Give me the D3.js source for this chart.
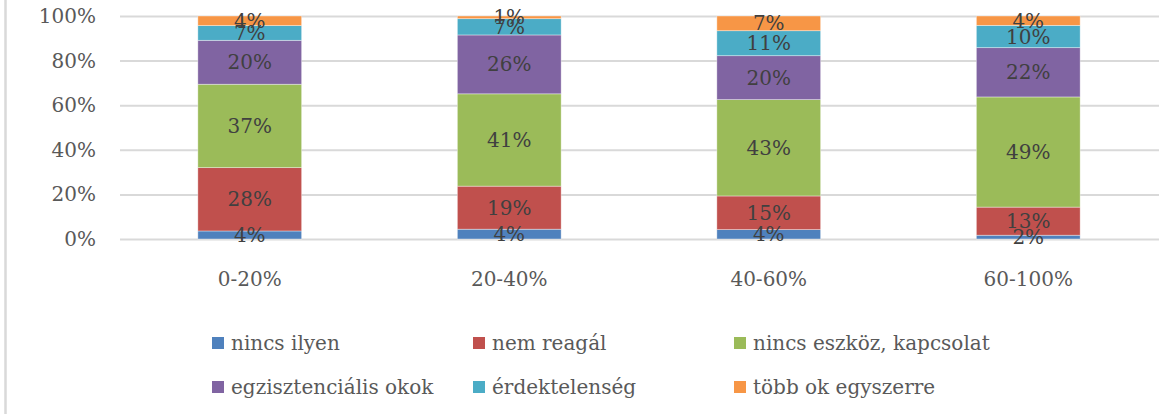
<!DOCTYPE html>
<html>
<head>
<meta charset="utf-8">
<script src="https://cdn.jsdelivr.net/npm/d3@7"></script>
<style>
  body { margin: 0; background: #fff; }
  text { font-family: "DejaVu Serif", serif; }
</style>
</head>
<body>
<script>
let w = 1173;
let h = 414;

// categories and series (percent of each group)
var categories = ["0-20%", "20-40%", "40-60%", "60-100%"];
var seriesNames = ["nincs ilyen", "nem reagál", "nincs eszköz, kapcsolat",
                   "egzisztenciális okok", "érdektelenség", "több ok egyszerre"];
var nincsIlyen     = [3.6, 4.4, 4.2, 1.7];
var nemReagal      = [28.4, 19.3, 15.1, 12.6];
var nincsEszkoz    = [37.4, 41.4, 43.2, 49.4];
var egzisztencialis = [19.7, 26.4, 19.7, 22.1];
var erdektelenseg  = [6.6, 7.3, 11.2, 10.0];
var tobbOk         = [4.3, 1.2, 6.6, 4.2];
var yTicks = [0, 0.2, 0.4, 0.6, 0.8, 1];

var colors = ["#4F81BD", "#C0504D", "#9BBB59", "#8064A2", "#4BACC6", "#F79646"];
var seriesValues = [nincsIlyen, nemReagal, nincsEszkoz, egzisztencialis, erdektelenseg, tobbOk];

var rows = categories.map(function(c, i) {
    var r = {cat: c};
    seriesNames.forEach(function(s, j) { r[s] = seriesValues[j][i]; });
    return r;
});

var stack = d3.stack().keys(seriesNames).offset(d3.stackOffsetExpand);
var layers = stack(rows);

let svg = d3.select("body").append("svg").attr("width", w).attr("height", h);

// outer frame line on the left
svg.append("line")
    .attr("x1", 5.5).attr("x2", 5.5)
    .attr("y1", 0).attr("y2", h)
    .attr("stroke", "#d9d9d9")
    .attr("stroke-width", 2.5);

let xScale = d3.scaleBand()
    .domain(categories)
    .range([120, 1158])
    .paddingInner(0.6)
    .paddingOuter(0.3);

let yScale = d3.scaleLinear()
    .domain([0, 1])
    .range([239, 16]);

// gridlines
var yAxis = d3.axisLeft(yScale)
    .tickValues(yTicks)
    .tickFormat(d3.format(".0%"))
    .tickSize(-(1159 - 120))
    .tickPadding(24);

let gy = svg.append("g")
    .attr("class", "axis")
    .attr("transform", "translate(120, 0)")
    .call(yAxis);
gy.select(".domain").remove();
gy.selectAll(".tick line")
    .attr("stroke", "#d9d9d9")
    .attr("stroke-width", 2);
gy.selectAll(".tick text")
    .attr("fill", "#595959")
    .style("font-size", "20px")
    .style("font-family", "DejaVu Serif");

// category axis labels
var xAxis = d3.axisBottom(xScale).tickSize(0).tickPadding(0);
let gx = svg.append("g")
    .attr("transform", "translate(0, 267)")
    .call(xAxis);
gx.select(".domain").remove();
gx.selectAll(".tick text")
    .attr("fill", "#595959")
    .attr("dy", "0.35em")
    .attr("y", 12)
    .style("font-size", "20px")
    .style("font-family", "DejaVu Serif");

// bars
let groups = svg.selectAll("g.layer")
    .data(layers)
    .enter()
    .append("g")
    .attr("class", "layer")
    .attr("fill", function(d, i) { return colors[i]; });

groups.selectAll("rect")
    .data(function(d) { return d; })
    .enter()
    .append("rect")
    .attr("x", function(d) { return xScale(d.data.cat); })
    .attr("width", xScale.bandwidth())
    .attr("y", function(d) { return yScale(d[1]); })
    .attr("height", function(d) { return yScale(d[0]) - yScale(d[1]); })
    .attr("stroke", "#ffffff")
    .attr("stroke-opacity", 0.5)
    .attr("stroke-width", 0.75);

// data labels
layers.forEach(function(layer) {
    svg.selectAll(null)
        .data(layer)
        .enter()
        .append("text")
        .attr("x", function(d) { return xScale(d.data.cat) + xScale.bandwidth() / 2; })
        .attr("y", function(d) { return (yScale(d[0]) + yScale(d[1])) / 2; })
        .attr("dy", "0.35em")
        .attr("text-anchor", "middle")
        .attr("fill", "#404040")
        .style("font-size", "20px")
        .text(function(d) { return Math.round(d.data[layer.key]) + "%"; });
});

// legend
var legendCols = [212, 473, 734];
var legendRows = [343, 387];
seriesNames.forEach(function(s, i) {
    var lx = legendCols[i % 3];
    var ly = legendRows[Math.floor(i / 3)];
    svg.append("rect")
        .attr("x", lx)
        .attr("y", ly - 6)
        .attr("width", 12)
        .attr("height", 12)
        .attr("fill", colors[i]);
    svg.append("text")
        .attr("x", lx + 19)
        .attr("y", ly)
        .attr("dy", "0.35em")
        .attr("fill", "#595959")
        .style("font-size", "20px")
        .text(s);
});
</script>
</body>
</html>
